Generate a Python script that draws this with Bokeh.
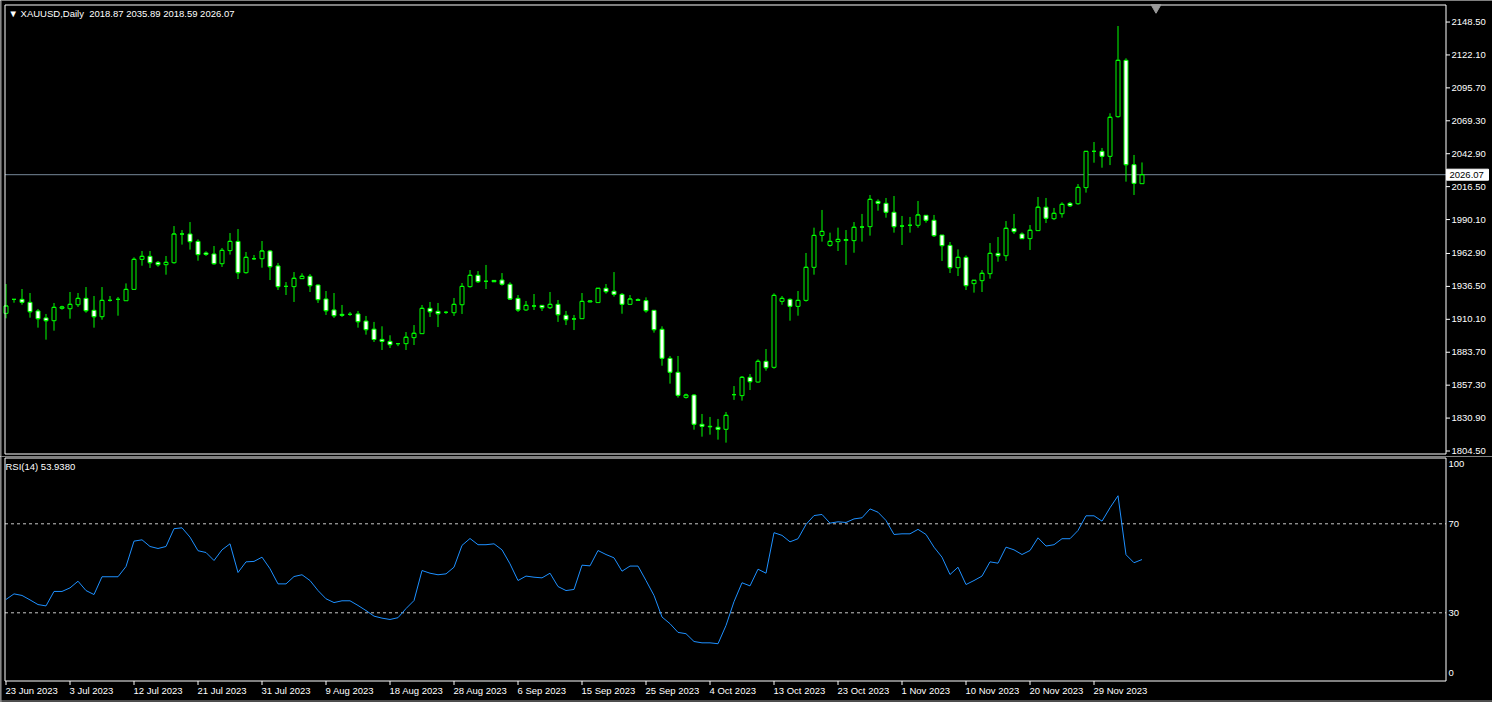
from bokeh.plotting import figure
from bokeh.models import Range1d, ColumnDataSource
from bokeh.layouts import column
from bokeh.embed import file_html
from bokeh.resources import INLINE
from bokeh.core.properties import value

# ---------------- data ----------------
symbol = "XAUUSD,Daily"
last_price = 2026.07
rsi_name = "RSI(14)"
rsi_last = 53.9380

open_ = [1914.9, 1926.1, 1926.1, 1923.7, 1916.8, 1911.2, 1909.0, 1918.9, 1918.6, 1921.8,
         1926.9, 1917.3, 1912.2, 1925.3, 1926.1, 1925.0, 1934.1, 1958.2, 1960.6, 1955.8,
         1953.9, 1955.5, 1978.5, 1978.5, 1972.6, 1963.3, 1962.5, 1954.7, 1965.2, 1972.6,
         1947.5, 1958.7, 1958.7, 1964.9, 1952.9, 1936.5, 1936.3, 1942.7, 1944.6, 1937.6,
         1926.4, 1917.6, 1914.1, 1914.1, 1914.4, 1908.7, 1902.2, 1894.0, 1892.4, 1890.6,
         1890.6, 1895.4, 1898.6, 1918.9, 1916.5, 1915.7, 1915.4, 1921.8, 1936.3, 1945.4,
         1940.6, 1941.3, 1941.6, 1938.2, 1926.9, 1917.6, 1920.8, 1921.3, 1919.4, 1922.1,
         1913.3, 1910.4, 1910.6, 1924.0, 1923.5, 1935.0, 1932.6, 1930.1, 1922.1, 1925.9,
         1925.1, 1917.3, 1902.1, 1878.8, 1867.6, 1847.5, 1849.4, 1825.9, 1824.3, 1823.5,
         1821.9, 1849.7, 1848.9, 1863.6, 1859.8, 1876.4, 1871.6, 1924.5, 1926.1, 1920.5,
         1925.3, 1951.8, 1977.4, 1969.4, 1972.4, 1973.4, 1973.2, 1984.1, 1984.4, 2004.7,
         2003.1, 1995.9, 1984.9, 1985.5, 1985.5, 1993.5, 1989.5, 1977.7, 1969.4, 1951.5,
         1959.8, 1938.7, 1941.1, 1946.7, 1963.0, 1961.1, 1982.8, 1978.5, 1974.8, 1981.2,
         2000.0, 1990.8, 1994.8, 2003.1, 2002.8, 2015.7, 2044.8, 2044.8, 2040.8, 2072.6,
         2117.8, 2034.1, 2018.87]
high = [1938.4, 1926.1, 1934.4, 1931.2, 1918.4, 1914.4, 1923.2, 1921.0, 1932.0, 1931.2,
        1936.0, 1928.8, 1936.0, 1928.8, 1928.0, 1938.9, 1959.8, 1964.9, 1964.9, 1956.9,
        1960.9, 1984.9, 1981.7, 1988.1, 1974.2, 1964.6, 1968.9, 1967.3, 1979.3, 1982.5,
        1964.1, 1961.7, 1972.9, 1965.7, 1955.3, 1940.0, 1948.0, 1947.0, 1946.4, 1938.2,
        1932.8, 1931.2, 1921.6, 1916.0, 1916.8, 1912.8, 1908.0, 1904.5, 1897.3, 1890.6,
        1899.9, 1905.5, 1921.6, 1924.0, 1923.2, 1916.8, 1927.2, 1939.2, 1949.6, 1948.8,
        1953.7, 1941.6, 1947.2, 1939.8, 1929.6, 1924.8, 1930.4, 1921.6, 1932.0, 1925.6,
        1916.8, 1913.6, 1931.2, 1925.3, 1935.0, 1938.4, 1948.0, 1931.2, 1929.6, 1926.9,
        1927.7, 1917.6, 1904.5, 1880.7, 1880.7, 1850.5, 1850.2, 1834.2, 1831.8, 1830.2,
        1835.8, 1856.6, 1864.6, 1866.2, 1878.0, 1886.3, 1930.9, 1928.8, 1926.9, 1932.8,
        1963.3, 1983.6, 1997.8, 1979.6, 1983.6, 1981.7, 1988.1, 1994.6, 2009.8, 2006.3,
        2007.4, 2009.0, 1993.0, 1992.2, 2005.0, 1993.8, 1993.8, 1977.7, 1972.1, 1966.2,
        1961.4, 1941.4, 1949.6, 1971.3, 1976.1, 1988.9, 1994.6, 1979.8, 1985.7, 2008.2,
        2007.4, 1999.4, 2003.9, 2004.2, 2018.6, 2044.8, 2052.3, 2047.5, 2075.3, 2145.3,
        2119.4, 2041.9, 2035.89]
low = [1910.9, 1923.4, 1921.8, 1911.4, 1903.4, 1893.8, 1901.0, 1917.8, 1910.6, 1920.0,
       1915.4, 1903.4, 1909.8, 1924.3, 1913.0, 1924.8, 1933.9, 1953.1, 1951.3, 1952.3,
       1945.9, 1954.7, 1970.0, 1966.0, 1957.1, 1960.9, 1953.9, 1952.1, 1962.0, 1942.4,
       1946.7, 1957.7, 1951.5, 1941.6, 1933.6, 1929.6, 1924.0, 1942.4, 1932.0, 1923.2,
       1913.6, 1911.2, 1912.0, 1912.8, 1903.4, 1897.8, 1891.9, 1885.5, 1887.1, 1888.6,
       1885.5, 1889.5, 1898.3, 1912.0, 1903.9, 1914.4, 1912.8, 1914.4, 1935.5, 1939.2,
       1934.4, 1940.0, 1937.1, 1925.6, 1916.0, 1916.8, 1917.6, 1916.8, 1918.4, 1908.0,
       1905.5, 1901.5, 1910.4, 1923.7, 1923.5, 1930.7, 1928.3, 1914.6, 1921.8, 1925.1,
       1915.4, 1899.4, 1872.9, 1858.5, 1847.3, 1846.5, 1821.6, 1816.0, 1817.6, 1813.6,
       1811.2, 1845.5, 1844.9, 1853.4, 1859.3, 1868.9, 1870.5, 1921.8, 1909.0, 1913.0,
       1924.3, 1945.9, 1972.4, 1968.4, 1964.9, 1953.7, 1963.5, 1972.4, 1977.2, 1997.2,
       1991.6, 1979.6, 1969.7, 1979.6, 1983.6, 1987.6, 1976.1, 1956.9, 1947.2, 1944.8,
       1933.6, 1931.5, 1932.0, 1942.7, 1956.3, 1956.9, 1978.5, 1974.5, 1965.7, 1980.9,
       1987.3, 1989.7, 1991.6, 2000.2, 2002.0, 2011.7, 2035.7, 2031.7, 2033.8, 2071.8,
       2020.5, 2009.8, 2018.59]
close = [1920.8, 1926.1, 1923.7, 1916.2, 1910.6, 1909.0, 1919.7, 1920.0, 1922.1, 1926.9,
         1917.0, 1912.2, 1925.3, 1925.3, 1926.1, 1934.1, 1958.2, 1960.6, 1955.5, 1953.9,
         1955.8, 1978.5, 1978.5, 1972.4, 1962.0, 1962.2, 1954.7, 1965.4, 1972.6, 1947.5,
         1959.8, 1958.7, 1964.9, 1952.3, 1936.3, 1936.5, 1943.0, 1944.6, 1937.1, 1925.9,
         1917.0, 1913.0, 1913.3, 1914.1, 1908.2, 1901.8, 1893.9, 1892.4, 1889.8, 1890.6,
         1895.7, 1898.9, 1918.9, 1916.2, 1914.6, 1915.7, 1922.1, 1936.5, 1945.4, 1940.3,
         1940.6, 1940.3, 1938.2, 1926.4, 1917.6, 1921.3, 1920.8, 1919.4, 1922.1, 1913.8,
         1909.8, 1910.4, 1924.5, 1924.8, 1935.0, 1932.3, 1930.1, 1922.1, 1926.4, 1925.3,
         1917.0, 1901.8, 1878.8, 1867.6, 1849.1, 1849.4, 1825.9, 1824.3, 1824.0, 1821.9,
         1833.1, 1849.7, 1863.6, 1860.1, 1876.4, 1871.3, 1929.3, 1926.9, 1920.5, 1925.3,
         1951.8, 1977.4, 1980.6, 1972.6, 1974.2, 1974.0, 1983.9, 1984.1, 2006.3, 2003.1,
         1995.9, 1984.4, 1984.9, 1985.5, 1993.8, 1989.5, 1977.2, 1969.2, 1951.5, 1959.8,
         1937.1, 1941.4, 1947.0, 1963.0, 1961.1, 1983.1, 1980.4, 1974.8, 1981.5, 2000.0,
         1991.1, 1995.1, 2002.3, 2001.2, 2015.9, 2044.8, 2044.8, 2040.8, 2072.1, 2117.8,
         2034.1, 2019.1, 2026.07]
rsi = [36.0, 38.5, 37.8, 35.8, 33.7, 33.1, 39.6, 39.6, 41.2, 44.2,
       40.0, 38.2, 46.2, 46.2, 46.2, 50.8, 62.2, 62.8, 59.8, 58.9,
       59.8, 67.8, 68.2, 64.0, 57.9, 57.1, 53.5, 58.3, 61.0, 48.1,
       52.9, 53.1, 55.0, 49.8, 43.0, 43.0, 46.3, 47.1, 44.5, 40.0,
       36.3, 34.6, 35.4, 35.4, 33.3, 31.0, 28.5, 27.6, 27.0, 27.8,
       31.9, 35.5, 49.0, 47.8, 47.1, 47.5, 50.5, 60.3, 63.4, 60.6,
       60.6, 61.0, 58.3, 52.0, 44.5, 46.5, 46.0, 45.7, 47.8, 41.8,
       40.0, 40.5, 51.4, 51.1, 58.0, 56.2, 54.7, 48.7, 51.0, 51.0,
       44.5, 37.8, 28.1, 25.1, 21.2, 20.6, 17.1, 16.5, 16.5, 16.1,
       24.3, 35.0, 43.5, 42.1, 49.6, 47.8, 66.0, 64.8, 61.9, 63.3,
       69.7, 73.7, 74.2, 70.3, 70.9, 70.6, 72.2, 72.7, 76.7, 75.2,
       71.5, 65.2, 65.5, 65.5, 67.5, 65.2, 59.5, 55.0, 47.2, 50.5,
       42.7, 44.5, 46.5, 52.9, 52.3, 59.5, 58.3, 56.2, 58.0, 63.7,
       60.0, 60.6, 63.3, 63.3, 67.0, 73.6, 73.6, 71.2, 77.2, 82.6,
       56.1, 52.5, 53.938]
price_ticks = [2148.50, 2122.10, 2095.70, 2069.30, 2042.90, 2016.50, 1990.10,
               1962.90, 1936.50, 1910.10, 1883.70, 1857.30, 1830.90, 1804.50]
rsi_levels = [70, 30]
rsi_scale_labels = ["100", "70", "30", "0"]
date_labels = ["23 Jun 2023", "3 Jul 2023", "12 Jul 2023", "21 Jul 2023", "31 Jul 2023",
               "9 Aug 2023", "18 Aug 2023", "28 Aug 2023", "6 Sep 2023", "15 Sep 2023",
               "25 Sep 2023", "4 Oct 2023", "13 Oct 2023", "23 Oct 2023", "1 Nov 2023",
               "10 Nov 2023", "20 Nov 2023", "29 Nov 2023"]
bars_per_label = 8

# ---------------- layout / styling (terminal-like pixel grid) ----------------
FONT = value("Liberation Sans")
FS = value("9.5px")
GREEN = "#00FF00"
W, H1, H2 = 1492, 456, 246
X0, BAR_PX = 5.5, 8.0                 # page x of bar 0 centre, pixels per bar
FR_L, FR_R = 4.5, 1445.5              # frame left/right (page px)
M_TOP, M_BOT = 4.5, 453.5             # price frame top/bottom (page px)
R_TOP, R_BOT = 457.5, 680.5           # RSI frame top/bottom (page px)
Y_REF, P_REF, PPY = 450.5, 1804.5, 1.247   # price scale
R0_PY, RPY = 679.05, 2.225            # RSI scale


def dx(px):
    return (px - X0) / BAR_PX


def price_at(py):
    return P_REF + (Y_REF - py) / PPY


def rsi_at(py):
    return (R0_PY - py) / RPY


n = len(close)
idx = list(range(n))
src = ColumnDataSource(dict(
    x=idx, o=open_, h=high, l=low, c=close,
    top=[max(a, b) for a, b in zip(open_, close)],
    bottom=[min(a, b) for a, b in zip(open_, close)],
    fill=["black" if c >= o else "white" for o, c in zip(open_, close)],
    xl=[i - 0.25 for i in idx], xr=[i + 0.25 for i in idx],
))


def base_fig(h, yr):
    f = figure(width=W, height=h, x_range=Range1d(dx(0), dx(W)), y_range=Range1d(*yr),
               output_backend="svg", toolbar_location=None, x_axis_location=None,
               y_axis_location=None, background_fill_color="black",
               border_fill_color="black", min_border=0, min_border_left=0,
               min_border_right=0, min_border_top=0, min_border_bottom=0,
               outline_line_color=None)
    f.grid.visible = False
    return f


def txt(f, x, y, t, color="white", align="left"):
    f.text(x=x, y=y, text=t, text_color=color, text_font=FONT, text_font_size=FS,
           text_align=align, text_baseline="middle")


# ---------------- price panel ----------------
p1 = base_fig(H1, (price_at(H1), price_at(0)))
# window edge
p1.segment(x0=[dx(0.5)], y0=[price_at(0)], x1=[dx(0.5)], y1=[price_at(H1)],
           line_color="#9A9A9A", line_width=1)
# current price line
p1.segment(x0=[dx(FR_L)], y0=[last_price], x1=[dx(FR_R)], y1=[last_price],
           line_color="#778899", line_width=1)
# candles
p1.segment(x0="x", y0="l", x1="x", y1="h", source=src, line_color=GREEN, line_width=1)
p1.vbar(x="x", width=0.5, top="top", bottom="bottom", fill_color="fill",
        line_color=GREEN, line_width=1, source=src)
p1.segment(x0="xl", y0="c", x1="xr", y1="c", source=src, line_color=GREEN, line_width=1)
# frame
p1.quad(left=[dx(FR_L)], right=[dx(FR_R)], top=[price_at(M_TOP)], bottom=[price_at(M_BOT)],
        fill_color=None, line_color="white", line_width=1)
# price scale
p1.segment(x0=[dx(FR_R)] * len(price_ticks), y0=price_ticks,
           x1=[dx(FR_R + 4)] * len(price_ticks), y1=price_ticks,
           line_color="white", line_width=1)
txt(p1, [dx(1451)] * len(price_ticks), price_ticks, [f"{v:.2f}" for v in price_ticks])
# current price box
p1.quad(left=[dx(1446)], right=[dx(1488)], top=[last_price + 5.5 / PPY],
        bottom=[last_price - 5.5 / PPY], fill_color="white", line_color="white")
txt(p1, [dx(1449)], [last_price], [f"{last_price:.2f}"], color="black")
# chart shift marker
p1.scatter(x=[n + 0.75], y=[price_at(7)], marker="inverted_triangle", size=10,
           fill_color="#9A9A9A", line_color="#9A9A9A")
# header
ohlc = " ".join(f"{v:.2f}" for v in (open_[-1], high[-1], low[-1], close[-1]))
txt(p1, [dx(8)], [price_at(12.5)], ["\u25BC " + symbol + "\u00a0 " + ohlc])

# ---------------- RSI panel ----------------
p2 = base_fig(H2, (rsi_at(H1 + H2), rsi_at(H1)))
p2.segment(x0=[dx(0.5)], y0=[rsi_at(H1)], x1=[dx(0.5)], y1=[rsi_at(H1 + H2)],
           line_color="#9A9A9A", line_width=1)
p2.segment(x0=[dx(0)], y0=[rsi_at(700.5)], x1=[dx(W)], y1=[rsi_at(700.5)],
           line_color="#9A9A9A", line_width=1)
p2.segment(x0=[dx(FR_L)] * 2, y0=rsi_levels, x1=[dx(FR_R)] * 2, y1=rsi_levels,
           line_color="#C8C8C8", line_width=1, line_dash="3 3")
p2.line(idx, rsi, line_color="#1E90FF", line_width=1)
p2.quad(left=[dx(FR_L)], right=[dx(FR_R)], top=[rsi_at(R_TOP)], bottom=[rsi_at(R_BOT)],
        fill_color=None, line_color="white", line_width=1)
txt(p2, [dx(1448)] * 4, [rsi_at(463.5), 70, 30, rsi_at(672.5)], rsi_scale_labels)
txt(p2, [dx(5)], [rsi_at(466)], [f"{rsi_name} {rsi_last:.4f}"])

# time scale
tick_pos = [i * bars_per_label for i in range(len(date_labels))]
p2.segment(x0=tick_pos, y0=[rsi_at(R_BOT)] * len(tick_pos), x1=tick_pos,
           y1=[rsi_at(R_BOT + 4)] * len(tick_pos), line_color="white", line_width=1)
txt(p2, [t - 0.06 for t in tick_pos], [rsi_at(689.5)] * len(tick_pos), date_labels)

layout = column(p1, p2, spacing=0)
open("out.html", "w").write(file_html(layout, INLINE))
